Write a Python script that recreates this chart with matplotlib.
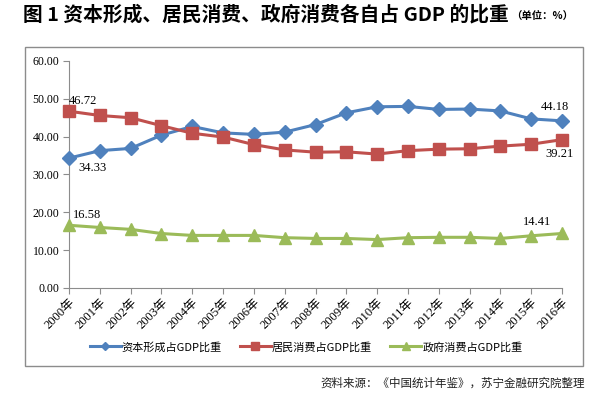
import matplotlib
matplotlib.use("Agg")
import matplotlib.pyplot as plt
from matplotlib.patches import Rectangle
from matplotlib.lines import Line2D

years = [f"{y}年" for y in range(2000, 2017)]
capital = [34.33, 36.3, 36.9, 40.4, 42.7, 41.0, 40.6, 41.2, 43.2, 46.3, 47.9, 48.0, 47.2, 47.3, 46.8, 44.7, 44.18]
household = [46.72, 45.6, 45.0, 42.9, 40.9, 39.9, 37.9, 36.5, 35.9, 36.0, 35.4, 36.3, 36.7, 36.8, 37.5, 38.0, 39.21]
government = [16.58, 16.0, 15.5, 14.4, 13.9, 13.9, 13.9, 13.3, 13.1, 13.1, 12.8, 13.3, 13.4, 13.4, 13.1, 13.8, 14.41]
series_names = ["资本形成占GDP比重", "居民消费占GDP比重", "政府消费占GDP比重"]
colors = ["#4F81BD", "#C0504D", "#9BBB59"]
markers = ["D", "s", "^"]
msizes = [7, 8.5, 8.5]
yticks = [0, 10, 20, 30, 40, 50, 60]

W, H = 594, 397
fig = plt.figure(figsize=(W / 100, H / 100), dpi=100)
fig.patch.set_facecolor("white")

serif = ["Liberation Serif", "Noto Sans CJK SC"]
cjk = ["Noto Sans CJK SC", "DejaVu Sans"]

# outer frame
fig.patches.append(Rectangle((25 / W, 1 - 366 / H), 558 / W, 319 / H, transform=fig.transFigure,
                             fill=False, edgecolor="#8c8c8c", linewidth=1.0))

ax = fig.add_axes([69 / W, 1 - 288 / H, (562 - 69) / W, (288 - 61) / H])
x = list(range(len(years)))
data = [capital, household, government]
for vals, c, m, ms in zip(data, colors, markers, msizes):
    ax.plot(x, vals, color=c, marker=m, markersize=ms, linewidth=2.2, markeredgecolor=c, clip_on=False, zorder=3)

ax.set_xlim(0, len(years) - 1)
ax.set_ylim(0, 60)
ax.set_yticks(yticks)
ax.set_yticklabels([f"{v:.2f}" for v in yticks], family=serif, fontsize=8.5)
ax.set_xticks(x)
ax.set_xticklabels(years, rotation=45, ha="right", va="top", rotation_mode="anchor", family=serif, fontsize=9)
for s in ["top", "right"]:
    ax.spines[s].set_visible(False)
for s in ["left", "bottom"]:
    ax.spines[s].set_color("#8c8c8c")
    ax.spines[s].set_linewidth(0.8)
ax.tick_params(axis="both", direction="out", length=4, color="#8c8c8c", width=0.8, pad=2)
ax.tick_params(axis="y", pad=3)

ann_kw = dict(family=serif, fontsize=9, color="black")
ax.annotate(f"{household[0]:.2f}", (0, household[0]), xytext=(0, 3), textcoords="offset points", ha="left", va="bottom", **ann_kw)
ax.annotate(f"{capital[0]:.2f}", (0, capital[0]), xytext=(7, -3), textcoords="offset points", ha="left", va="top", **ann_kw)
ax.annotate(f"{government[0]:.2f}", (0, government[0]), xytext=(3, 3), textcoords="offset points", ha="left", va="bottom", **ann_kw)
n = len(years) - 1
ax.annotate(f"{capital[-1]:.2f}", (n, capital[-1]), xytext=(-5, 6), textcoords="offset points", ha="center", va="bottom", **ann_kw)
ax.annotate(f"{household[-1]:.2f}", (n, household[-1]), xytext=(-2, -6), textcoords="offset points", ha="center", va="top", **ann_kw)
ax.annotate(f"{government[-1]:.2f}", (n, government[-1]), xytext=(-18, 4), textcoords="offset points", ha="center", va="bottom", **ann_kw)

handles = [Line2D([0], [0], color=c, marker=m, markersize=ms * 0.6, linewidth=2.2) for c, m, ms in zip(colors, markers, msizes)]
fig.legend(handles, series_names, loc="center", bbox_to_anchor=(306 / W, 1 - 347 / H), ncol=3, frameon=False,
           prop={"family": cjk, "size": 8}, handlelength=2.8, columnspacing=1.6, handletextpad=0.1)

fig.text(23 / W, 1 - 15 / H, "图 1 资本形成、居民消费、政府消费各自占 GDP 的比重", family=cjk, fontsize=14.2,
         fontweight="bold", ha="left", va="center")
fig.text(511 / W, 1 - 17 / H, "（单位：%）", family=cjk, fontsize=7.5, fontweight="bold", ha="left", va="center")

fig.text(585 / W, 1 - 383 / H, "资料来源：《中国统计年鉴》，苏宁金融研究院整理", family=cjk, fontsize=8.3,
         style="italic", color="#222222", ha="right", va="center")

fig.savefig("out.png", dpi=100, facecolor="white")
